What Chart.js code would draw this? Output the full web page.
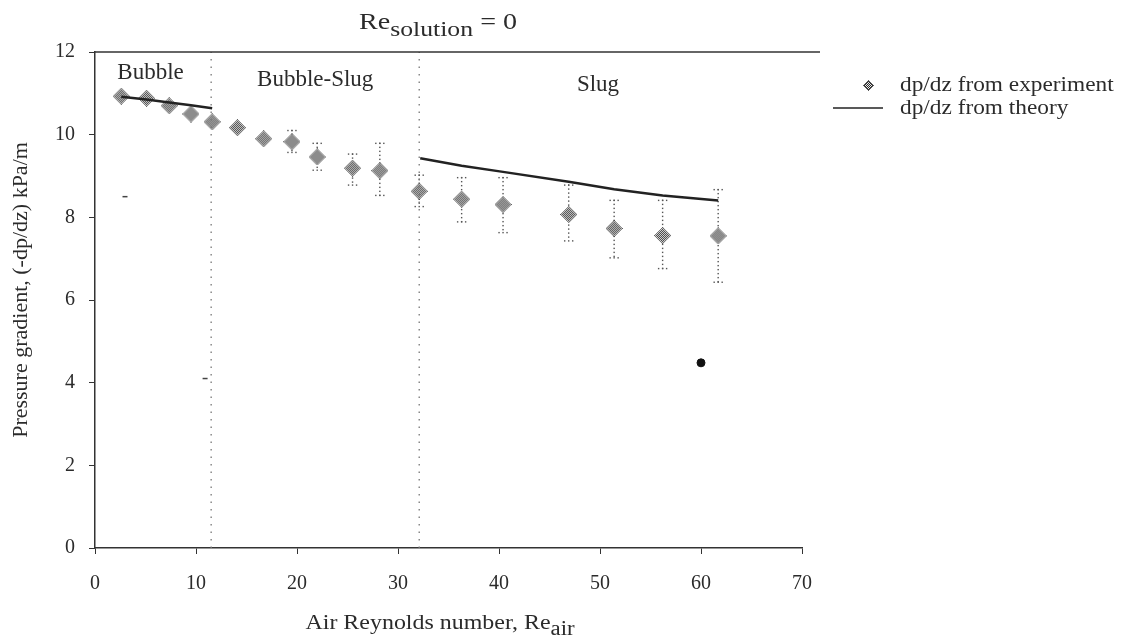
<!DOCTYPE html>
<html>
<head>
<meta charset="utf-8">
<script src="https://cdn.jsdelivr.net/npm/chart.js@4.4.1/dist/chart.umd.min.js"></script>
<style>
  body { margin: 0; background: #fff; }
  canvas { display: block; }
</style>
</head>
<body>
<canvas id="chart" width="1125" height="644"></canvas>
<script>
// --- Data ---
const reAir  = [2.6, 5.1, 7.35, 9.5, 11.6, 14.1, 16.7, 19.5, 22.0, 25.5, 28.2, 32.1, 36.3, 40.4, 46.9, 51.4, 56.2, 61.7];
const dpExp  = [10.93, 10.88, 10.70, 10.50, 10.31, 10.17, 9.90, 9.83, 9.46, 9.19, 9.13, 8.63, 8.44, 8.31, 8.07, 7.73, 7.56, 7.55];
const errHi  = [null, null, null, null, null, null, null, 10.10, 9.79, 9.53, 9.79, 9.02, 8.96, 8.96, 8.78, 8.41, 8.41, 8.67];
const errLo  = [null, null, null, null, null, null, null, 9.57, 9.14, 8.78, 8.53, 8.26, 7.89, 7.63, 7.43, 7.02, 6.76, 6.43];

const theoryX1 = [2.6, 5.1, 7.35, 9.5, 11.6];
const theoryY1 = [10.92, 10.85, 10.78, 10.71, 10.64];
const theoryX2 = [32.2, 36.3, 40.4, 46.9, 51.4, 56.2, 61.7];
const theoryY2 = [9.43, 9.25, 9.10, 8.86, 8.68, 8.53, 8.41];

const regionX = [11.5, 32.1];
const regionNames = ["Bubble", "Bubble-Slug", "Slug"];
const regionLabelX = [5.5, 21.8, 49.8];
const regionLabelY = [11.35, 11.18, 11.05];

// odd marks on the scan
const speckX = [2.97, 10.9];
const speckY = [8.5, 4.1];
const blobX = [60.0];
const blobY = [4.48];

const FONT = "'Liberation Serif', 'DejaVu Serif', serif";
const INK = "#2b2b2b";

// --- Helpers ---
const pts = (xs, ys) => xs.map((x, i) => ({ x, y: ys[i] }));

function diamondMarker(size) {
    const c = document.createElement("canvas");
    c.width = c.height = size;
    const ctx = c.getContext("2d");
    const img = ctx.createImageData(size, size);
    const m = (size - 1) / 2;
    for (let j = 0; j < size; j++) {
        for (let i = 0; i < size; i++) {
            const d = Math.abs(i - m) + Math.abs(j - m);
            if (d > m + 0.3) continue;
            const edge = d > m - 1;
            const dark = edge || (i + j) % 2 === 0;
            const k = (j * size + i) * 4;
            const v = dark ? 45 : 235;
            img.data[k] = img.data[k + 1] = img.data[k + 2] = v;
            img.data[k + 3] = edge ? 200 : 255;
        }
    }
    ctx.putImageData(img, 0, 0);
    return c;
}
const bigMarker = diamondMarker(17);
const smallMarker = diamondMarker(11);

// text with subscripts, stretched a little sideways like the scan
function textSub(ctx, x, y, parts, align, sx) {
    let w = 0;
    parts.forEach(p => { ctx.font = `${p[1]}px ${FONT}`; w += ctx.measureText(p[0]).width; });
    ctx.save();
    ctx.translate(x, y);
    ctx.scale(sx, 1);
    let cx = align === "center" ? -w / 2 : 0;
    ctx.textAlign = "left";
    parts.forEach(p => {
        ctx.font = `${p[1]}px ${FONT}`;
        ctx.fillText(p[0], cx, p[2]);
        cx += ctx.measureText(p[0]).width;
    });
    ctx.restore();
}

// --- Plugin: error bars, labels, legend, titles ---
const decor = {
    id: "decor",
    beforeDatasetsDraw(chart) {
        const { ctx, scales: { x, y } } = chart;
        ctx.save();
        ctx.fillStyle = "#555";
        for (let i = 0; i < reAir.length; i++) {
            if (errHi[i] == null) continue;
            const px = x.getPixelForValue(reAir[i]);
            const top = y.getPixelForValue(errHi[i]);
            const bot = y.getPixelForValue(errLo[i]);
            for (let py = top; py <= bot; py += 4) ctx.fillRect(px - 0.7, py - 0.7, 1.4, 1.4);
            [top, bot].forEach(py => {
                for (let dx = -4; dx <= 4; dx += 4) ctx.fillRect(px + dx - 0.7, py - 0.7, 1.4, 1.4);
            });
        }
        ctx.restore();
    },
    afterDraw(chart) {
        const { ctx, chartArea: a, scales: { x, y } } = chart;
        ctx.save();
        // top frame line
        ctx.strokeStyle = "#333";
        ctx.lineWidth = 1.5;
        ctx.beginPath();
        ctx.moveTo(a.left, a.top);
        ctx.lineTo(a.right + 18, a.top);
        ctx.stroke();

        ctx.fillStyle = INK;
        ctx.textBaseline = "alphabetic";

        // region labels
        ctx.font = `23px ${FONT}`;
        ctx.textAlign = "center";
        regionNames.forEach((t, i) => {
            ctx.fillText(t, x.getPixelForValue(regionLabelX[i]), y.getPixelForValue(regionLabelY[i]));
        });

        // title
        textSub(ctx, 438, 29, [["Re", 24, 0], ["solution", 22, 7], [" = 0", 24, 0]], "center", 1.17);

        // x axis title
        textSub(ctx, 440, 629, [["Air Reynolds number, Re", 21, 0], ["air", 20, 6]], "center", 1.14);

        // y axis title
        ctx.save();
        ctx.translate(27, 290);
        ctx.rotate(-Math.PI / 2);
        ctx.font = `22px ${FONT}`;
        ctx.textAlign = "center";
        ctx.fillText("Pressure gradient, (-dp/dz) kPa/m", 0, 0);
        ctx.restore();

        // legend
        ctx.drawImage(smallMarker, 868 - 5, 85 - 5);
        ctx.strokeStyle = "#222";
        ctx.lineWidth = 1.5;
        ctx.beginPath();
        ctx.moveTo(833, 108);
        ctx.lineTo(883, 108);
        ctx.stroke();
        textSub(ctx, 900, 91, [["dp/dz from experiment", 22, 0]], "left", 1.06);
        textSub(ctx, 900, 114, [["dp/dz from theory", 22, 0]], "left", 1.06);
        ctx.restore();
    }
};

// --- Chart ---
new Chart(document.getElementById("chart"), {
    type: "scatter",
    data: {
        datasets: [
            {
                label: "regions",
                data: regionX.flatMap(v => [{ x: v, y: 0 }, { x: v, y: 12 }, { x: v, y: null }]),
                showLine: true,
                spanGaps: false,
                borderColor: "#777",
                borderWidth: 1.3,
                borderDash: [1.5, 6],
                pointRadius: 0
            },
            {
                label: "dp/dz from theory",
                data: pts(theoryX1, theoryY1),
                showLine: true,
                borderColor: "#222",
                borderWidth: 2.5,
                pointRadius: 0
            },
            {
                label: "dp/dz from theory 2",
                data: pts(theoryX2, theoryY2),
                showLine: true,
                borderColor: "#222",
                borderWidth: 2.5,
                pointRadius: 0
            },
            {
                label: "dp/dz from experiment",
                data: pts(reAir, dpExp),
                pointStyle: bigMarker
            },
            {
                label: "specks",
                data: pts(speckX, speckY),
                pointStyle: "line",
                pointRadius: 2.5,
                borderColor: "#444",
                borderWidth: 1.5
            },
            {
                label: "blob",
                data: pts(blobX, blobY),
                pointRadius: 4,
                backgroundColor: "#111",
                borderColor: "#111"
            }
        ]
    },
    options: {
        responsive: false,
        devicePixelRatio: 1,
        animation: false,
        events: [],
        layout: { padding: { left: 0, top: 52, right: 323, bottom: 0 } },
        plugins: { legend: { display: false }, tooltip: { enabled: false } },
        scales: {
            x: {
                type: "linear",
                min: 0, max: 70,
                afterFit: s => { s.height = 96; },
                border: { display: true, color: "#333", width: 1.5 },
                grid: { drawOnChartArea: false, drawTicks: true, tickLength: 6, color: "#333" },
                ticks: { stepSize: 10, padding: 18, color: INK, font: { family: FONT, size: 20 } }
            },
            y: {
                min: 0, max: 12,
                afterFit: s => { s.width = 95; },
                border: { display: true, color: "#333", width: 1.5 },
                grid: { drawOnChartArea: false, drawTicks: true, tickLength: 6, color: "#333" },
                ticks: { stepSize: 2, padding: 14, color: INK, font: { family: FONT, size: 20 } }
            }
        }
    },
    plugins: [decor]
});
</script>
</body>
</html>
